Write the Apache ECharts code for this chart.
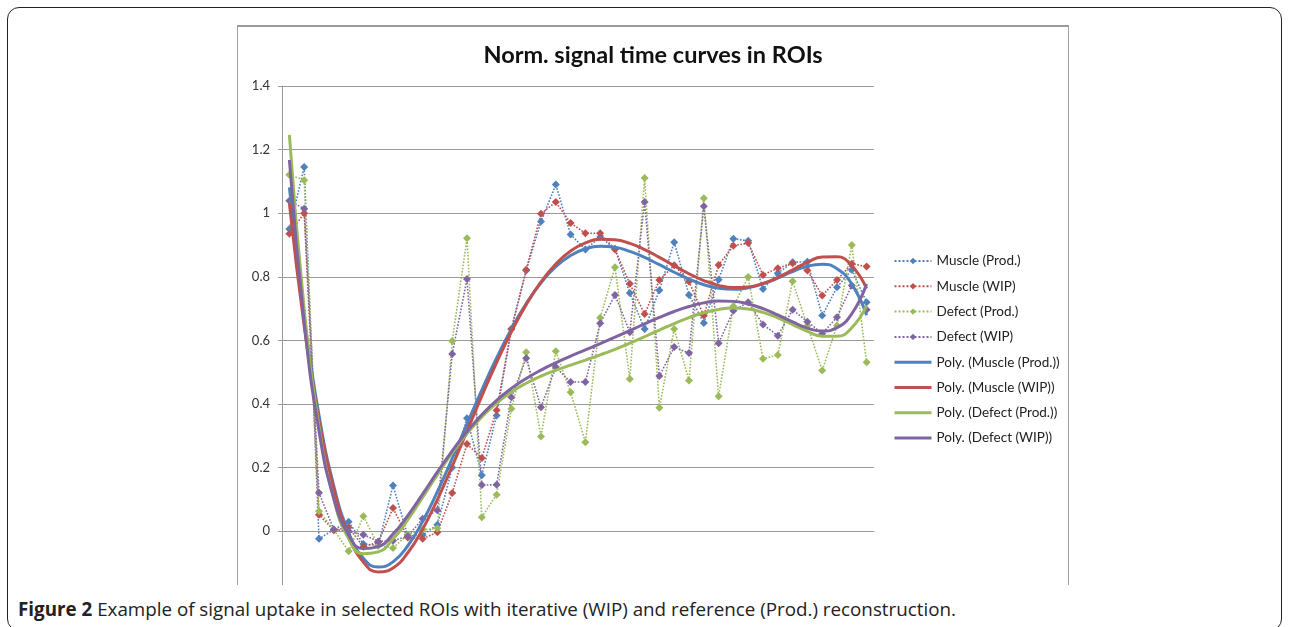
<!DOCTYPE html>
<html>
<head>
<meta charset="utf-8">
<script src="https://cdn.jsdelivr.net/npm/echarts@6/dist/echarts.min.js"></script>
<style>
  body { margin: 0; background: #fff; width: 1290px; height: 627px; overflow: hidden; position: relative; font-family: "Open Sans", sans-serif; }
  #frame { position: absolute; left: 7px; top: 7px; width: 1273px; height: 622px; border: 1.5px solid #222; border-radius: 12px; }
  #box { position: absolute; left: 237px; top: 25px; width: 830px; height: 558px; border: 1px solid #a0a0a0; border-top: 2px solid #9a9a9a; border-bottom: none; overflow: hidden; background: #fff; }
  #chart { position: absolute; left: 0; top: -1px; width: 830px; height: 580px; }
  #caption { position: absolute; left: 18px; top: 596px; font-size: 18.8px; color: #222; white-space: nowrap; }
  #caption b { font-weight: 700; }
</style>
</head>
<body>
<div id="frame"></div>
<div id="box"><div id="chart"></div></div>
<div id="caption"><b>Figure 2</b> Example of signal uptake in selected ROIs with iterative (WIP) and reference (Prod.) reconstruction.</div>
<script>
// 数据：每个时间点的归一化信号
var timePoints = [];
for (var t = 1; t <= 40; t++) timePoints.push(String(t));

var muscleProd = [0.95, 1.145, -0.024, 0.005, 0.03, -0.04, -0.045, 0.144, -0.015, -0.012,
                  0.02, 0.2, 0.355, 0.176, 0.364, 0.636, 0.82, 0.974, 1.09, 0.933,
                  0.886, 0.925, 0.888, 0.749, 0.636, 0.758, 0.909, 0.743, 0.655, 0.791,
                  0.92, 0.913, 0.762, 0.811, 0.846, 0.847, 0.678, 0.767, 0.822, 0.72];
var muscleWip = [0.935, 1.0, 0.052, 0.003, 0.012, -0.049, -0.035, 0.073, -0.02, -0.024,
                 -0.003, 0.12, 0.274, 0.23, 0.38, 0.636, 0.822, 0.998, 1.035, 0.969,
                 0.937, 0.937, 0.886, 0.778, 0.683, 0.79, 0.836, 0.785, 0.678, 0.837,
                 0.898, 0.906, 0.806, 0.827, 0.843, 0.82, 0.741, 0.79, 0.841, 0.832];
var defectProd = [1.121, 1.104, 0.063, 0.005, -0.063, 0.047, -0.045, -0.053, -0.01, 0.005,
                  0.009, 0.598, 0.921, 0.044, 0.115, 0.385, 0.563, 0.298, 0.566, 0.437,
                  0.28, 0.671, 0.83, 0.479, 1.111, 0.388, 0.636, 0.474, 1.047, 0.424,
                  0.707, 0.799, 0.542, 0.554, 0.786, 0.646, 0.505, 0.647, 0.9, 0.531];
var defectWip = [1.039, 1.014, 0.121, 0.005, 0.0, -0.011, -0.032, -0.03, -0.016, 0.039,
                 0.066, 0.557, 0.793, 0.145, 0.146, 0.421, 0.544, 0.39, 0.516, 0.469,
                 0.469, 0.654, 0.743, 0.626, 1.035, 0.488, 0.579, 0.56, 1.022, 0.591,
                 0.693, 0.72, 0.65, 0.615, 0.696, 0.659, 0.621, 0.673, 0.773, 0.696];

var yTicks = { min: -0.2, max: 1.4, step: 0.2 };

// 多项式趋势线（最小二乘，6阶，和Excel一样）
function polyTrend(ys, order) {
	var n = ys.length, m = order + 1, c = (n - 1) / 2;
	var A = [];
	for (var r = 0; r < m; r++) { A.push([]); for (var s = 0; s <= m; s++) A[r].push(0); }
	for (var i = 0; i < n; i++) {
		var x = (i - c) / c, p = [1];
		for (var k = 1; k < m; k++) p.push(p[k - 1] * x);
		for (var r = 0; r < m; r++) {
			for (var s = 0; s < m; s++) A[r][s] += p[r] * p[s];
			A[r][m] += p[r] * ys[i];
		}
	}
	for (var col = 0; col < m; col++) {
		var piv = col;
		for (var r = col + 1; r < m; r++) if (Math.abs(A[r][col]) > Math.abs(A[piv][col])) piv = r;
		var tmp = A[col]; A[col] = A[piv]; A[piv] = tmp;
		for (var r = 0; r < m; r++) {
			if (r === col) continue;
			var f = A[r][col] / A[col][col];
			for (var s = col; s <= m; s++) A[r][s] -= f * A[col][s];
		}
	}
	var coef = [];
	for (var r = 0; r < m; r++) coef.push(A[r][m] / A[r][r]);
	return ys.map(function (v, i) {
		var x = (i - c) / c, y = 0;
		for (var k = m - 1; k >= 0; k--) y = y * x + coef[k];
		return y;
	});
}

var colors = ['#4F81BD', '#C0504D', '#9BBB59', '#8064A2'];
var names = ['Muscle (Prod.)', 'Muscle (WIP)', 'Defect (Prod.)', 'Defect (WIP)'];
var seriesData = [muscleProd, muscleWip, defectProd, defectWip];

var series = [];
var legendData = [];
seriesData.forEach(function (d, k) {
	series.push({
		name: names[k],
		type: 'line',
		data: d,
		symbol: 'diamond',
		symbolSize: 8,
		itemStyle: { color: colors[k] },
		lineStyle: { color: colors[k], width: 1.6, type: 'dotted' },
		emphasis: { disabled: true },
		z: 2
	});
	legendData.push({ name: names[k] });
});
seriesData.forEach(function (d, k) {
	var nm = 'Poly. (' + names[k] + ')';
	series.push({
		name: nm,
		type: 'line',
		data: polyTrend(d, 6),
		smooth: true,
		symbol: 'none',
		itemStyle: { color: colors[k] },
		lineStyle: { color: colors[k], width: 3 },
		emphasis: { disabled: true },
		z: 3
	});
	legendData.push({ name: nm, itemStyle: { opacity: 0 }, lineStyle: { width: 3, color: colors[k] } });
});

var myChart = echarts.init(document.getElementById('chart'));
var option = {
	animation: false,
	backgroundColor: '#fff',
	title: {
		text: 'Norm. signal time curves in ROIs',
		left: 'center',
		top: 12,
		textStyle: { fontFamily: 'Lato', fontWeight: 'bold', fontSize: 23.5, color: '#111' }
	},
	legend: {
		orient: 'vertical',
		left: 650,
		top: 223,
		itemWidth: 37,
		itemHeight: 8,
		itemGap: 11.3,
		textStyle: { fontFamily: 'Lato', fontSize: 13.5, color: '#222', lineHeight: 14 },
		data: legendData
	},
	grid: { left: 44, top: 60, width: 592, height: 508.8, containLabel: false },
	xAxis: {
		type: 'category',
		data: timePoints,
		boundaryGap: true,
		axisLine: { show: true, onZero: true, lineStyle: { color: '#999', width: 1 } },
		axisTick: { show: false },
		axisLabel: { show: false },
		splitLine: { show: false }
	},
	yAxis: {
		type: 'value',
		min: yTicks.min,
		max: yTicks.max,
		interval: yTicks.step,
		axisLine: { show: true, lineStyle: { color: '#999' } },
		axisTick: { show: true, length: 4, lineStyle: { color: '#999' } },
		axisLabel: { margin: 12, fontFamily: 'Lato', fontSize: 13, color: '#333',
			formatter: function (v) { return String(Math.round(v * 10) / 10); } },
		splitLine: { show: true, lineStyle: { color: '#9a9a9a', width: 1 } }
	},
	series: series
};
myChart.setOption(option);
</script>
</body>
</html>
